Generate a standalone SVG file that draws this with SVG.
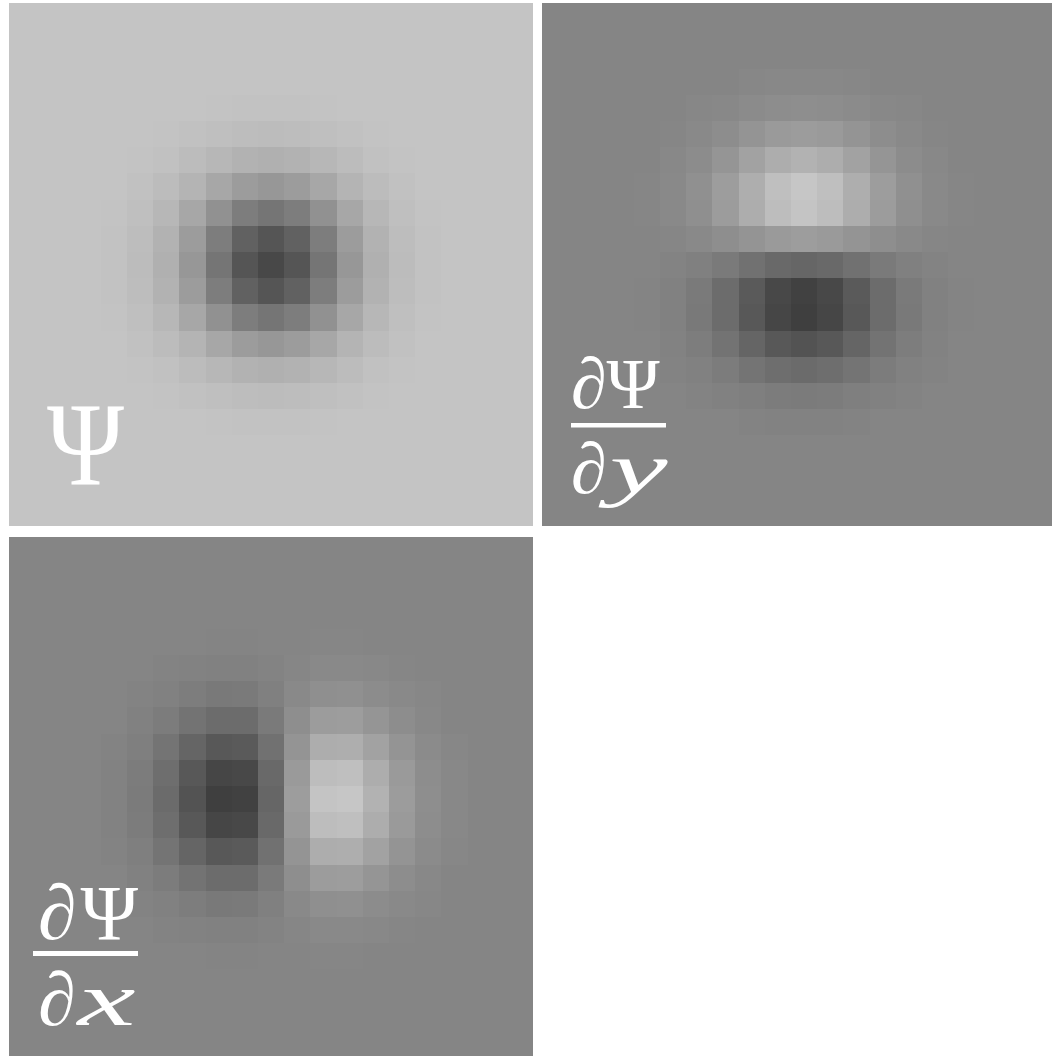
<svg xmlns="http://www.w3.org/2000/svg" xmlns:xlink="http://www.w3.org/1999/xlink" width="1052" height="1056" viewBox="0 0 1052 1056">
<style>
.lab{font-family:"Liberation Serif","DejaVu Serif",serif;fill:#ffffff}
.it{font-style:italic}
.px{shape-rendering:crispEdges}
</style>
<defs>
<g id="q1">
<rect x="-0.5" y="-0.5" width="1" height="1" fill="#484848"/>
<rect x="0.5" y="-0.5" width="1" height="1" fill="#555555"/>
<rect x="1.5" y="-0.5" width="1" height="1" fill="#757575"/>
<rect x="2.5" y="-0.5" width="1" height="1" fill="#979797"/>
<rect x="3.5" y="-0.5" width="1" height="1" fill="#b0b0b0"/>
<rect x="4.5" y="-0.5" width="1" height="1" fill="#bcbcbc"/>
<rect x="5.5" y="-0.5" width="1" height="1" fill="#c2c2c2"/>
<rect x="-0.5" y="0.5" width="1" height="1" fill="#555555"/>
<rect x="0.5" y="0.5" width="1" height="1" fill="#616161"/>
<rect x="1.5" y="0.5" width="1" height="1" fill="#7d7d7d"/>
<rect x="2.5" y="0.5" width="1" height="1" fill="#9c9c9c"/>
<rect x="3.5" y="0.5" width="1" height="1" fill="#b2b2b2"/>
<rect x="4.5" y="0.5" width="1" height="1" fill="#bdbdbd"/>
<rect x="5.5" y="0.5" width="1" height="1" fill="#c2c2c2"/>
<rect x="-0.5" y="1.5" width="1" height="1" fill="#757575"/>
<rect x="0.5" y="1.5" width="1" height="1" fill="#7d7d7d"/>
<rect x="1.5" y="1.5" width="1" height="1" fill="#919191"/>
<rect x="2.5" y="1.5" width="1" height="1" fill="#a7a7a7"/>
<rect x="3.5" y="1.5" width="1" height="1" fill="#b7b7b7"/>
<rect x="4.5" y="1.5" width="1" height="1" fill="#bfbfbf"/>
<rect x="5.5" y="1.5" width="1" height="1" fill="#c3c3c3"/>
<rect x="-0.5" y="2.5" width="1" height="1" fill="#979797"/>
<rect x="0.5" y="2.5" width="1" height="1" fill="#9c9c9c"/>
<rect x="1.5" y="2.5" width="1" height="1" fill="#a7a7a7"/>
<rect x="2.5" y="2.5" width="1" height="1" fill="#b4b4b4"/>
<rect x="3.5" y="2.5" width="1" height="1" fill="#bcbcbc"/>
<rect x="4.5" y="2.5" width="1" height="1" fill="#c1c1c1"/>
<rect x="-0.5" y="3.5" width="1" height="1" fill="#b0b0b0"/>
<rect x="0.5" y="3.5" width="1" height="1" fill="#b2b2b2"/>
<rect x="1.5" y="3.5" width="1" height="1" fill="#b7b7b7"/>
<rect x="2.5" y="3.5" width="1" height="1" fill="#bcbcbc"/>
<rect x="3.5" y="3.5" width="1" height="1" fill="#c1c1c1"/>
<rect x="4.5" y="3.5" width="1" height="1" fill="#c3c3c3"/>
<rect x="-0.5" y="4.5" width="1" height="1" fill="#bcbcbc"/>
<rect x="0.5" y="4.5" width="1" height="1" fill="#bdbdbd"/>
<rect x="1.5" y="4.5" width="1" height="1" fill="#bfbfbf"/>
<rect x="2.5" y="4.5" width="1" height="1" fill="#c1c1c1"/>
<rect x="3.5" y="4.5" width="1" height="1" fill="#c3c3c3"/>
<rect x="-0.5" y="5.5" width="1" height="1" fill="#c2c2c2"/>
<rect x="0.5" y="5.5" width="1" height="1" fill="#c2c2c2"/>
<rect x="1.5" y="5.5" width="1" height="1" fill="#c3c3c3"/>
</g>
<g id="h2">
<rect x="-0.5" y="-7.5" width="1" height="1" fill="#888888"/>
<rect x="0.5" y="-7.5" width="1" height="1" fill="#888888"/>
<rect x="1.5" y="-7.5" width="1" height="1" fill="#878787"/>
<rect x="-0.5" y="-6.5" width="1" height="1" fill="#8e8e8e"/>
<rect x="0.5" y="-6.5" width="1" height="1" fill="#8d8d8d"/>
<rect x="1.5" y="-6.5" width="1" height="1" fill="#8b8b8b"/>
<rect x="2.5" y="-6.5" width="1" height="1" fill="#888888"/>
<rect x="3.5" y="-6.5" width="1" height="1" fill="#878787"/>
<rect x="-0.5" y="-5.5" width="1" height="1" fill="#9c9c9c"/>
<rect x="0.5" y="-5.5" width="1" height="1" fill="#9a9a9a"/>
<rect x="1.5" y="-5.5" width="1" height="1" fill="#949494"/>
<rect x="2.5" y="-5.5" width="1" height="1" fill="#8d8d8d"/>
<rect x="3.5" y="-5.5" width="1" height="1" fill="#898989"/>
<rect x="4.5" y="-5.5" width="1" height="1" fill="#868686"/>
<rect x="-0.5" y="-4.5" width="1" height="1" fill="#b2b2b2"/>
<rect x="0.5" y="-4.5" width="1" height="1" fill="#adadad"/>
<rect x="1.5" y="-4.5" width="1" height="1" fill="#a2a2a2"/>
<rect x="2.5" y="-4.5" width="1" height="1" fill="#959595"/>
<rect x="3.5" y="-4.5" width="1" height="1" fill="#8c8c8c"/>
<rect x="4.5" y="-4.5" width="1" height="1" fill="#888888"/>
<rect x="-0.5" y="-3.5" width="1" height="1" fill="#c6c6c6"/>
<rect x="0.5" y="-3.5" width="1" height="1" fill="#bfbfbf"/>
<rect x="1.5" y="-3.5" width="1" height="1" fill="#aeaeae"/>
<rect x="2.5" y="-3.5" width="1" height="1" fill="#9d9d9d"/>
<rect x="3.5" y="-3.5" width="1" height="1" fill="#909090"/>
<rect x="4.5" y="-3.5" width="1" height="1" fill="#898989"/>
<rect x="5.5" y="-3.5" width="1" height="1" fill="#868686"/>
<rect x="-0.5" y="-2.5" width="1" height="1" fill="#c4c4c4"/>
<rect x="0.5" y="-2.5" width="1" height="1" fill="#bdbdbd"/>
<rect x="1.5" y="-2.5" width="1" height="1" fill="#adadad"/>
<rect x="2.5" y="-2.5" width="1" height="1" fill="#9c9c9c"/>
<rect x="3.5" y="-2.5" width="1" height="1" fill="#8f8f8f"/>
<rect x="4.5" y="-2.5" width="1" height="1" fill="#898989"/>
<rect x="5.5" y="-2.5" width="1" height="1" fill="#868686"/>
<rect x="-0.5" y="-1.5" width="1" height="1" fill="#9d9d9d"/>
<rect x="0.5" y="-1.5" width="1" height="1" fill="#9a9a9a"/>
<rect x="1.5" y="-1.5" width="1" height="1" fill="#949494"/>
<rect x="2.5" y="-1.5" width="1" height="1" fill="#8e8e8e"/>
<rect x="3.5" y="-1.5" width="1" height="1" fill="#898989"/>
<rect x="4.5" y="-1.5" width="1" height="1" fill="#868686"/>
<rect x="-0.5" y="-0.5" width="1" height="1" fill="#666666"/>
<rect x="0.5" y="-0.5" width="1" height="1" fill="#696969"/>
<rect x="1.5" y="-0.5" width="1" height="1" fill="#717171"/>
<rect x="2.5" y="-0.5" width="1" height="1" fill="#7a7a7a"/>
<rect x="3.5" y="-0.5" width="1" height="1" fill="#808080"/>
<rect x="4.5" y="-0.5" width="1" height="1" fill="#838383"/>
<rect x="-0.5" y="0.5" width="1" height="1" fill="#414141"/>
<rect x="0.5" y="0.5" width="1" height="1" fill="#484848"/>
<rect x="1.5" y="0.5" width="1" height="1" fill="#5a5a5a"/>
<rect x="2.5" y="0.5" width="1" height="1" fill="#6c6c6c"/>
<rect x="3.5" y="0.5" width="1" height="1" fill="#7a7a7a"/>
<rect x="4.5" y="0.5" width="1" height="1" fill="#818181"/>
<rect x="5.5" y="0.5" width="1" height="1" fill="#848484"/>
<rect x="-0.5" y="1.5" width="1" height="1" fill="#3f3f3f"/>
<rect x="0.5" y="1.5" width="1" height="1" fill="#464646"/>
<rect x="1.5" y="1.5" width="1" height="1" fill="#585858"/>
<rect x="2.5" y="1.5" width="1" height="1" fill="#6c6c6c"/>
<rect x="3.5" y="1.5" width="1" height="1" fill="#797979"/>
<rect x="4.5" y="1.5" width="1" height="1" fill="#818181"/>
<rect x="5.5" y="1.5" width="1" height="1" fill="#848484"/>
<rect x="-0.5" y="2.5" width="1" height="1" fill="#535353"/>
<rect x="0.5" y="2.5" width="1" height="1" fill="#585858"/>
<rect x="1.5" y="2.5" width="1" height="1" fill="#656565"/>
<rect x="2.5" y="2.5" width="1" height="1" fill="#737373"/>
<rect x="3.5" y="2.5" width="1" height="1" fill="#7d7d7d"/>
<rect x="4.5" y="2.5" width="1" height="1" fill="#828282"/>
<rect x="-0.5" y="3.5" width="1" height="1" fill="#6b6b6b"/>
<rect x="0.5" y="3.5" width="1" height="1" fill="#6e6e6e"/>
<rect x="1.5" y="3.5" width="1" height="1" fill="#747474"/>
<rect x="2.5" y="3.5" width="1" height="1" fill="#7c7c7c"/>
<rect x="3.5" y="3.5" width="1" height="1" fill="#818181"/>
<rect x="4.5" y="3.5" width="1" height="1" fill="#838383"/>
<rect x="-0.5" y="4.5" width="1" height="1" fill="#7b7b7b"/>
<rect x="0.5" y="4.5" width="1" height="1" fill="#7c7c7c"/>
<rect x="1.5" y="4.5" width="1" height="1" fill="#7f7f7f"/>
<rect x="2.5" y="4.5" width="1" height="1" fill="#818181"/>
<rect x="3.5" y="4.5" width="1" height="1" fill="#838383"/>
<rect x="-0.5" y="5.5" width="1" height="1" fill="#828282"/>
<rect x="0.5" y="5.5" width="1" height="1" fill="#828282"/>
<rect x="1.5" y="5.5" width="1" height="1" fill="#838383"/>
</g>
</defs>
<rect width="1052" height="1056" fill="#ffffff"/>
<g id="panel-psi">
<rect x="9" y="3" width="524" height="523" fill="#c4c4c4"/>
<g class="px" transform="translate(271,265) scale(26.2)">
<use href="#q1"/>
<use href="#q1" transform="scale(-1,1)"/>
<use href="#q1" transform="scale(1,-1)"/>
<use href="#q1" transform="scale(-1,-1)"/>
</g>
<text class="lab" x="47" y="484" font-size="118" textLength="77" lengthAdjust="spacingAndGlyphs">Ψ</text>
</g>
<g id="panel-dpsi-dy">
<rect x="542" y="3" width="510" height="523" fill="#858585"/>
<g class="px" transform="translate(804,265) scale(26.2)">
<use href="#h2"/>
<use href="#h2" transform="scale(-1,1)"/>
</g>
<text class="lab" x="571" y="408" font-size="72"><tspan class="it">∂</tspan>Ψ</text>
<rect x="571" y="423" width="95" height="4.5" fill="#ffffff"/>
<text class="lab it" x="571" y="493" font-size="72">∂<tspan dx="3" textLength="58" lengthAdjust="spacingAndGlyphs">y</tspan></text>
</g>
<g id="panel-dpsi-dx">
<rect x="9" y="537" width="524" height="519" fill="#858585"/>
<g class="px" transform="translate(271,799) scale(26.2) rotate(90)">
<use href="#h2"/>
<use href="#h2" transform="scale(-1,1)"/>
</g>
<text class="lab" x="38" y="939" font-size="78"><tspan class="it">∂</tspan><tspan dx="4">Ψ</tspan></text>
<rect x="33" y="951" width="105" height="5" fill="#ffffff"/>
<text class="lab it" x="38" y="1025" font-size="76">∂<tspan dx="2" textLength="58" lengthAdjust="spacingAndGlyphs">x</tspan></text>
</g>
</svg>
